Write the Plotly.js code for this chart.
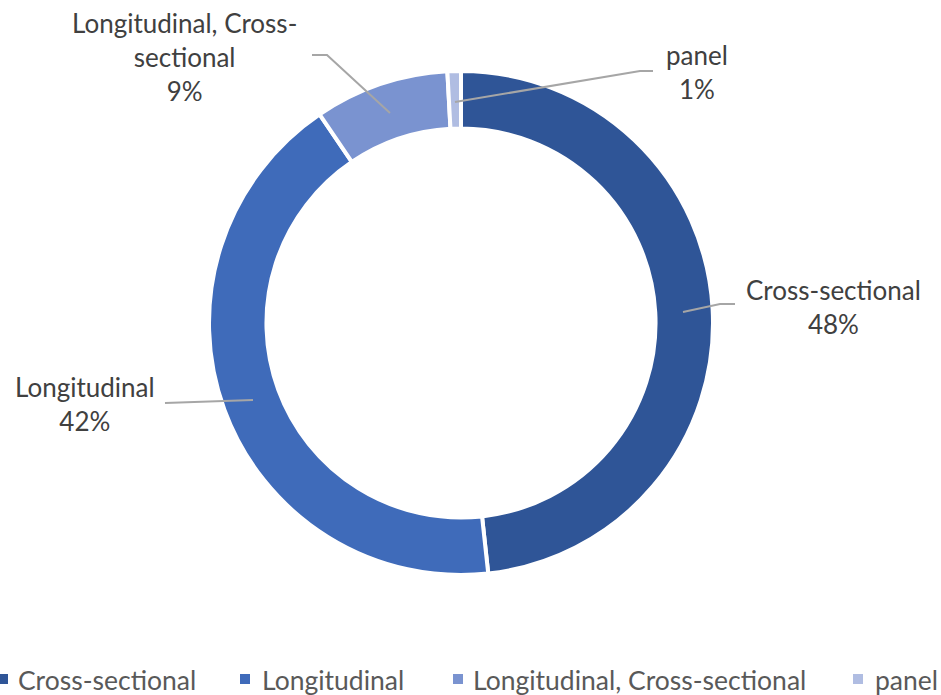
<!DOCTYPE html>
<html>
<head>
<meta charset="utf-8">
<script src="https://cdn.plot.ly/plotly-3.0.1.min.js"></script>
<style>html,body{margin:0;padding:0;background:#fff;}#chart{width:941px;height:695px;}</style>
</head>
<body>
<div id="chart"></div>
<script>
// Data
var categories = ["Cross-sectional", "Longitudinal", "Longitudinal, Cross-sectional", "panel"];
var counts = [56, 49, 10, 1];
var labelTexts = ["Cross-sectional", "Longitudinal", "Longitudinal, Cross-<br>sectional", "panel"];

var colors = ["#2F5597", "#3F6BBA", "#7A93D0", "#B0BDE2"];
var W = 941, H = 695;
function px(x) { return x / W; }
function py(y) { return 1 - y / H; }

var total = counts.reduce(function (a, b) { return a + b; }, 0);
var pct = counts.map(function (v) { return Math.round(v / total * 100) + "%"; });

var FONT = "Lato, 'Open Sans', sans-serif";

var trace = {
  type: "pie",
  labels: categories,
  values: counts,
  hole: 0.772,
  sort: false,
  direction: "clockwise",
  rotation: 0,
  textinfo: "none",
  hoverinfo: "label+percent",
  showlegend: false,
  marker: { colors: colors, line: { color: "#ffffff", width: 4 } },
  domain: { x: [px(208), px(714)], y: [py(575), py(71)] }
};

// Data label placement (pixel centres) and leader lines
var labelPos = [[833, 307], [85, 404], [184, 57], [697, 72]];
var leaders = [
  [[683, 312], [720, 304], [735, 304]],
  [[253, 400], [165, 403]],
  [[390, 113], [327, 55], [312, 55]],
  [[455, 102], [640, 71], [653, 71]]
];
// Legend entry placement: swatch left x, text left x (pixels), row centre y
var legendSwatchX = [-2, 240, 453, 853];
var legendTextX = [16, 260, 471, 873];
var legendY = 679;

var annotations = categories.map(function (c, i) {
  return {
    xref: "paper", yref: "paper",
    x: px(labelPos[i][0]), y: py(labelPos[i][1]),
    xanchor: "center", yanchor: "middle",
    text: labelTexts[i] + "<br>" + pct[i],
    showarrow: false, align: "center",
    font: { family: FONT, size: 26, color: "#404040" }
  };
});
categories.forEach(function (c, i) {
  annotations.push({
    xref: "paper", yref: "paper",
    x: px(legendTextX[i]), y: py(legendY + 1),
    xanchor: "left", yanchor: "middle",
    text: c, showarrow: false,
    font: { family: FONT, size: 26.5, color: "#595959" }
  });
});

var shapes = leaders.map(function (pts) {
  var d = pts.map(function (p, k) { return (k === 0 ? "M" : "L") + px(p[0]) + "," + py(p[1]); }).join(" ");
  return { type: "path", xref: "paper", yref: "paper", path: d, line: { color: "#A6A6A6", width: 2 } };
});
categories.forEach(function (c, i) {
  shapes.push({
    type: "rect", xref: "paper", yref: "paper",
    x0: px(legendSwatchX[i]), x1: px(legendSwatchX[i] + 10),
    y0: py(legendY - 5), y1: py(legendY + 5),
    fillcolor: colors[i], line: { width: 0 }
  });
});

var layout = {
  width: W, height: H,
  margin: { l: 0, r: 0, t: 0, b: 0, autoexpand: false },
  paper_bgcolor: "#ffffff",
  showlegend: false,
  annotations: annotations,
  shapes: shapes
};

Plotly.newPlot("chart", [trace], layout, { displayModeBar: false, staticPlot: true });
</script>
</body>
</html>
